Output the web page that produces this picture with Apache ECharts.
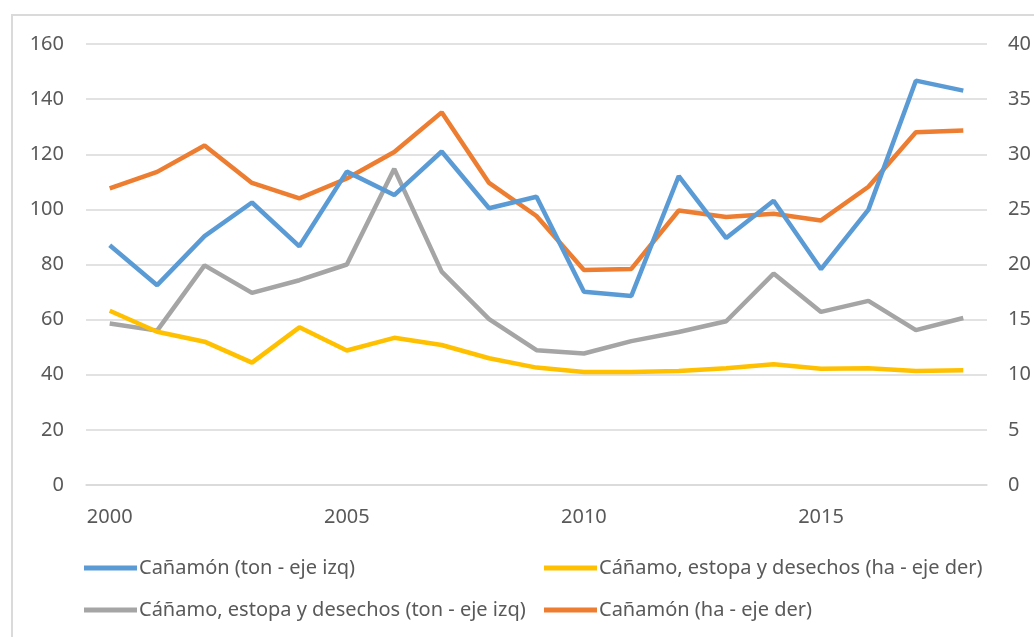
<!DOCTYPE html>
<html>
<head>
<meta charset="utf-8">
<script src="https://cdn.jsdelivr.net/npm/echarts@6/dist/echarts.min.js"></script>
<style>
  html, body { margin: 0; padding: 0; background: #fff; }
  #chart { width: 1034px; height: 637px; }
</style>
</head>
<body>
<div id="chart"></div>
<script>
    const years = ['2000', '2001', '2002', '2003', '2004', '2005', '2006', '2007', '2008', '2009',
        '2010', '2011', '2012', '2013', '2014', '2015', '2016', '2017', '2018'];

    // toneladas, eje izquierdo
    const canamonTon = [87, 72.5, 90.3, 102.5, 86.6, 113.7, 105.2, 121, 100.4, 104.6,
        70.1, 68.6, 112.1, 89.6, 103.1, 78.3, 99.9, 146.7, 143.1];
    const canamoTon = [58.6, 56, 79.7, 69.7, 74.3, 80, 114.7, 77.4, 60.2, 48.9,
        47.7, 52.2, 55.5, 59.4, 76.7, 62.8, 66.8, 56.2, 60.6];

    // hectáreas, eje derecho
    const canamoHa = [15.8, 13.9, 13.0, 11.1, 14.3, 12.2, 13.35, 12.7, 11.5, 10.65,
        10.25, 10.25, 10.35, 10.6, 10.95, 10.55, 10.6, 10.35, 10.4];
    const canamonHa = [26.9, 28.4, 30.8, 27.4, 26.0, 27.8, 30.2, 33.8, 27.4, 24.4,
        19.5, 19.6, 24.9, 24.3, 24.6, 24.0, 27.05, 32.0, 32.15];

    const names = [
        'Cañamón (ton - eje izq)',
        'Cáñamo, estopa y desechos (ha - eje der)',
        'Cáñamo, estopa y desechos (ton - eje izq)',
        'Cañamón (ha - eje der)'
    ];

    const colors = ['#5B9BD5', '#FFC000', '#A5A5A5', '#ED7D31'];
    const textColor = '#595959';
    const font = 'Noto Sans';

    const myChart = echarts.init(document.getElementById('chart'));

    const legendBase = {
        orient: 'vertical',
        top: 553,
        itemWidth: 53,
        itemHeight: 5,
        itemGap: 22,
        icon: 'rect',
        textStyle: { color: textColor, fontSize: 20, fontFamily: font, padding: [0, 0, 0, -3] }
    };

    function makeSeries(i, data, axis) {
        return {
            name: names[i],
            type: 'line',
            yAxisIndex: axis,
            data: data,
            symbol: 'none',
            lineStyle: { color: colors[i], width: 4.5 },
            itemStyle: { color: colors[i] },
            z: 10 - i
        };
    }

    const option = {
        animation: false,
        color: colors,
        graphic: [{
            type: 'rect',
            shape: { x: 12, y: 15, width: 1040, height: 640 },
            style: { fill: 'none', stroke: '#DADADA', lineWidth: 2 },
            silent: true
        }],
        grid: { left: 86, right: 47, top: 44, bottom: 152 },
        legend: [
            Object.assign({ left: 79, data: [names[0], names[2]] }, legendBase),
            Object.assign({ left: 539, data: [names[1], names[3]] }, legendBase)
        ],
        xAxis: {
            type: 'category',
            data: years,
            boundaryGap: true,
            axisLine: { show: true, lineStyle: { color: '#D9D9D9', width: 1.5 } },
            axisTick: { show: false },
            axisLabel: {
                interval: 4,
                color: textColor,
                fontSize: 20,
                fontFamily: font,
                margin: 22
            }
        },
        yAxis: [
            {
                type: 'value',
                min: 0,
                max: 160,
                interval: 20,
                axisLine: { show: false },
                axisTick: { show: false },
                splitLine: { lineStyle: { color: '#D9D9D9', width: 1.5 } },
                axisLabel: { color: textColor, fontSize: 20, fontFamily: font, margin: 22 }
            },
            {
                type: 'value',
                min: 0,
                max: 40,
                interval: 5,
                axisLine: { show: false },
                axisTick: { show: false },
                splitLine: { show: false },
                axisLabel: { color: textColor, fontSize: 20, fontFamily: font, margin: 21 }
            }
        ],
        series: [
            makeSeries(0, canamonTon, 0),
            makeSeries(1, canamoHa, 1),
            makeSeries(2, canamoTon, 0),
            makeSeries(3, canamonHa, 1)
        ]
    };

    myChart.setOption(option);
</script>
</body>
</html>
